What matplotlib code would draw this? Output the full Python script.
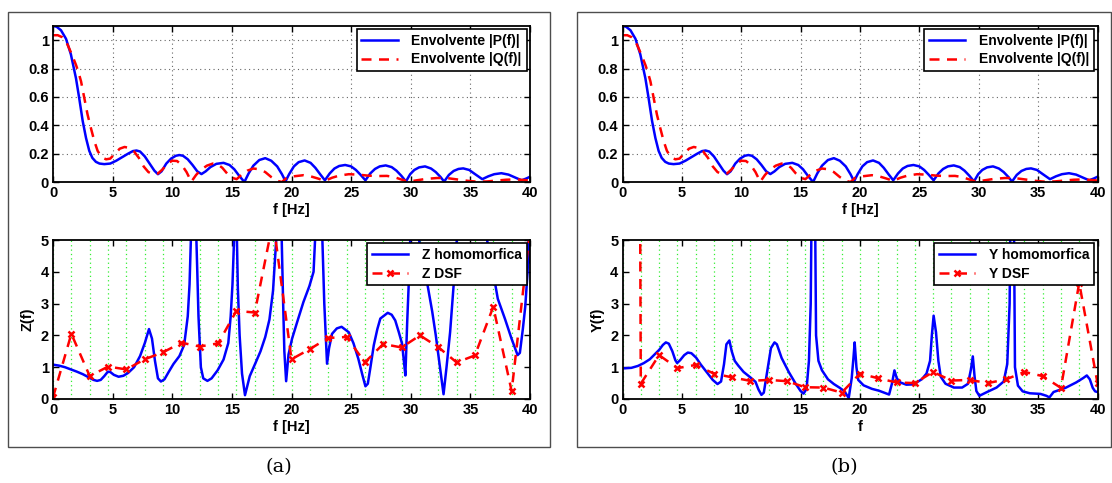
import numpy as np
import matplotlib
matplotlib.use('Agg')
import matplotlib.pyplot as plt
from matplotlib.patches import Rectangle
from matplotlib.ticker import FuncFormatter

plt.rcParams['font.family'] = 'Liberation Sans'
plt.rcParams['font.weight'] = 'bold'
plt.rcParams['font.size'] = 10.5
plt.rcParams['axes.labelweight'] = 'bold'

# --- envelopes |P(f)| and |Q(f)| (same in both panels) ---
p_f = [0, 0.3, 0.67, 1.09, 1.5, 1.93, 2.2, 2.49, 2.77, 3.04, 3.3, 3.6, 3.9, 4.3, 4.8, 5.3, 5.8,
       6.3, 6.7, 7.0, 7.3, 7.7, 8.1, 8.5, 8.8, 9.1, 9.5, 9.9, 10.3, 10.6, 10.9, 11.3, 11.7, 12.1,
       12.45, 12.8, 13.2, 13.7, 14.3, 14.8, 15.2, 15.6, 16.05, 16.4, 16.8, 17.3, 17.8, 18.3, 18.8,
       19.2, 19.5, 19.8, 20.2, 20.6, 21.1, 21.6, 22.0, 22.4, 22.8, 23.2, 23.6, 24.0, 24.5, 25.0,
       25.4, 25.8, 26.2, 26.6, 27.0, 27.4, 27.9, 28.4, 28.8, 29.2, 29.6, 29.95, 30.3, 30.7, 31.2,
       31.7, 32.1, 32.5, 32.8, 33.2, 33.6, 34.0, 34.4, 34.9, 35.4, 36.0, 36.5, 37.0, 37.6, 38.2,
       38.8, 39.3, 39.7, 40]
p_v = [1.10, 1.095, 1.07, 1.01, 0.9, 0.73, 0.59, 0.43, 0.31, 0.22, 0.17, 0.142, 0.13,
       0.126, 0.13, 0.15, 0.175, 0.2, 0.218, 0.222, 0.215, 0.18, 0.13, 0.08, 0.055, 0.075, 0.13,
       0.165, 0.185, 0.19, 0.185, 0.16, 0.12, 0.075, 0.056, 0.075, 0.105, 0.128, 0.135, 0.12,
       0.09, 0.045, 0.0, 0.06, 0.115, 0.155, 0.168, 0.15, 0.11, 0.055, 0.005, 0.055, 0.11, 0.14,
       0.152, 0.135, 0.1, 0.055, 0.012, 0.06, 0.095, 0.113, 0.12, 0.11, 0.085, 0.05, 0.012, 0.06,
       0.092, 0.11, 0.117, 0.105, 0.08, 0.045, 0.004, 0.055, 0.085, 0.103, 0.11, 0.095, 0.07,
       0.035, 0.003, 0.05, 0.078, 0.092, 0.096, 0.085, 0.055, 0.02, 0.04, 0.055, 0.062, 0.052,
       0.03, 0.012, 0.025, 0.037]

q_f = [0, 0.4, 0.8, 1.1, 1.37, 1.65, 1.93, 2.15, 2.35, 2.63, 2.9, 3.18, 3.46, 3.74, 4.0, 4.2,
       4.45, 4.8, 5.2, 5.6, 6.0, 6.4, 6.8, 7.2, 7.6, 8.0, 8.4, 8.8, 9.2, 9.6, 10.0, 10.4, 10.8,
       11.2, 11.6, 12.0, 12.4, 12.9, 13.4, 13.8, 14.2, 14.6, 15.0, 15.4, 15.8, 16.3, 16.8, 17.3,
       17.8, 18.3, 18.8, 19.2, 19.6, 20.2, 21.0, 21.6, 22.2, 22.8, 23.4, 24.0, 24.8, 25.6, 26.4,
       27.2, 28.0, 28.6, 29.2, 29.8, 30.5, 31.3, 32.2, 33.0, 33.9, 34.8, 35.6, 36.4, 37.2, 38.0,
       38.8, 39.5, 40]
q_v = [1.035, 1.035, 1.02, 0.99, 0.94, 0.885, 0.825, 0.77, 0.71, 0.59, 0.475, 0.38, 0.29, 0.22,
       0.185, 0.17, 0.16, 0.165, 0.2, 0.235, 0.247, 0.24, 0.215, 0.17, 0.11, 0.07, 0.055, 0.06,
       0.09, 0.13, 0.15, 0.148, 0.12, 0.07, 0.002, 0.05, 0.085, 0.115, 0.13, 0.125, 0.1, 0.06,
       0.03, 0.02, 0.05, 0.08, 0.095, 0.09, 0.07, 0.035, 0.008, 0.0, 0.03, 0.04, 0.048, 0.04,
       0.025, 0.008, 0.03, 0.045, 0.055, 0.052, 0.045, 0.042, 0.043, 0.035, 0.018, 0.002, 0.012,
       0.022, 0.028, 0.028, 0.018, 0.008, 0.002, 0.004, 0.01, 0.016, 0.018, 0.014, 0.01]

# --- DSF frequencies (shared by both lower plots) ---
dsf_f = [0, 1.54, 3.08, 4.62, 6.15, 7.69, 9.23, 10.77, 12.31, 13.85, 15.38, 16.92, 18.46,
         20.0, 21.54, 23.08, 24.62, 26.15, 27.69, 29.23, 30.77, 32.31, 33.85, 35.38, 36.92,
         38.46, 40.0]
z_dsf = [0.05, 2.05, 0.72, 1.02, 0.93, 1.25, 1.47, 1.77, 1.65, 1.75, 2.77, 2.72, 5.6, 1.25,
         1.57, 1.92, 1.95, 1.15, 1.73, 1.62, 2.0, 1.63, 1.15, 1.37, 2.9, 0.25, 5.3]
y_dsf = [150, 0.48, 1.38, 0.97, 1.07, 0.8, 0.68, 0.57, 0.6, 0.56, 0.37, 0.36, 0.2, 0.8, 0.65,
         0.52, 0.5, 0.85, 0.58, 0.6, 0.5, 0.62, 0.85, 0.72, 0.35, 3.65, 0.5]

# --- Z homomorfica ---
zh_f = [0, 0.5, 1.0, 1.5, 2.0, 2.5, 3.0, 3.4, 3.7, 4.0, 4.3, 4.6, 4.8, 5.1, 5.5, 5.9, 6.3, 6.8,
        7.3, 7.7, 8.05, 8.3, 8.55, 8.8, 9.05, 9.35, 9.7, 10.1, 10.6, 11.0, 11.3, 11.45, 11.6,
        11.75, 11.95, 12.1, 12.2, 12.4, 12.6, 12.95, 13.3, 13.8, 14.3, 14.7, 14.9, 15.05, 15.2,
        15.3, 15.4, 15.5, 15.65, 15.85, 16.1, 16.5, 17.0, 17.4, 17.8, 18.15, 18.45, 18.65, 18.8,
        19.0, 19.15, 19.3, 19.4, 19.55, 19.75, 20.05, 20.5, 21.0, 21.5, 21.85, 22.0, 22.2, 22.55,
        22.75, 22.98, 23.15, 23.4, 23.8, 24.2, 24.8, 25.2, 25.6, 25.95, 26.2, 26.4, 26.6, 26.9,
        27.2, 27.45, 28.07, 28.4, 28.7, 29.0, 29.27, 29.45, 29.55, 29.7, 29.85, 30.0, 30.3, 30.7,
        31.0, 31.4, 31.8, 32.1, 32.45, 32.75, 33.0, 33.3, 33.6, 33.9, 34.5, 35.5, 36.4, 36.9,
        37.3, 37.9, 38.45, 38.96, 39.15, 39.4, 39.6, 39.8, 39.9, 40]
zh_v = [1.08, 1.05, 1.0, 0.93, 0.86, 0.78, 0.68, 0.6, 0.57, 0.6, 0.72, 0.86, 0.85, 0.76, 0.7,
        0.73, 0.82, 1.0, 1.35, 1.76, 2.2, 1.9, 1.2, 0.65, 0.55, 0.62, 0.85, 1.1, 1.35, 1.7, 2.6,
        3.6, 5.5, 7, 6, 4.0, 2.6, 1.0, 0.65, 0.57, 0.65, 0.9, 1.24, 1.76, 2.6, 3.6, 5.2, 7, 5.5,
        3.5, 2.0, 0.8, 0.12, 0.72, 1.15, 1.5, 1.95, 2.5, 3.4, 4.6, 5.5, 7, 5.5, 3.0, 1.5, 0.56,
        1.4, 1.9, 2.45, 3.05, 3.55, 4.0, 5.2, 7, 5.5, 3.0, 1.11, 1.6, 2.05, 2.22, 2.27, 2.1, 1.75,
        1.27, 0.75, 0.4, 0.48, 0.95, 1.69, 2.2, 2.53, 2.71, 2.65, 2.47, 2.1, 1.74, 1.1, 0.74,
        2.4, 3.8, 5.5, 7, 5.0, 4.3, 3.6, 2.75, 2.0, 1.0, 0.15, 1.0, 2.1, 3.6, 5.2, 7, 6, 5.0,
        4.0, 3.15, 2.52, 1.9, 1.38, 1.45, 2.2, 2.9, 4.0, 5.3, 4.3]

# --- Y homomorfica ---
yh_f = [0, 0.75, 1.3, 1.8, 2.3, 2.7, 3.1, 3.4, 3.65, 3.9, 4.2, 4.45, 4.6, 4.85, 5.2, 5.5, 5.8,
        6.2, 6.6, 7.1, 7.6, 8.0, 8.3, 8.55, 8.75, 9.0, 9.2, 9.45, 9.75, 10.2, 10.7, 11.2, 11.45,
        11.7, 11.9, 12.2, 12.5, 12.8, 13.0, 13.4, 14.0, 14.6, 15.0, 15.25, 15.5, 15.7, 15.85,
        16.0, 16.15, 16.3, 16.5, 16.8, 17.3, 17.8, 18.3, 18.7, 19.05, 19.3, 19.45, 19.55, 19.7,
        19.85, 20.3, 21.0, 21.6, 22.1, 22.45, 22.7, 22.9, 23.1, 23.4, 23.9, 24.5, 25.2, 25.6,
        25.9, 26.05, 26.2, 26.4, 26.6, 26.8, 27.2, 27.9, 28.6, 29.1, 29.35, 29.5, 29.65, 29.8,
        30.05, 30.7, 31.5, 32.1, 32.4, 32.6, 32.75, 32.9, 33.05, 33.3, 33.7, 34.3, 35.2, 35.7,
        35.95, 36.3, 37.3, 38.2, 38.8, 39.1, 39.35, 39.6, 39.8, 40]
yh_v = [0.96, 0.98, 1.04, 1.13, 1.25, 1.4, 1.55, 1.7, 1.78, 1.74, 1.5, 1.22, 1.13, 1.22, 1.38,
        1.46, 1.44, 1.3, 1.08, 0.84, 0.6, 0.47, 0.55, 1.1, 1.72, 1.84, 1.5, 1.2, 1.05, 0.85, 0.7,
        0.54, 0.3, 0.13, 0.2, 0.9, 1.6, 1.78, 1.72, 1.29, 0.85, 0.47, 0.25, 0.17, 0.32, 1.2, 3.0,
        9, 9, 2.0, 1.2, 0.9, 0.62, 0.47, 0.35, 0.24, 0.03, 0.65, 1.3, 1.78, 1.0, 0.6, 0.43, 0.32,
        0.26, 0.19, 0.14, 0.5, 0.9, 0.65, 0.52, 0.45, 0.46, 0.62, 0.8, 1.2, 2.0, 2.62, 2.1, 1.2,
        0.7, 0.48, 0.36, 0.36, 0.48, 0.95, 1.34, 0.7, 0.25, 0.1, 0.22, 0.36, 0.55, 1.1, 3.0, 9,
        9, 1.0, 0.42, 0.24, 0.18, 0.16, 0.1, 0.05, 0.22, 0.35, 0.52, 0.66, 0.74, 0.62, 0.35,
        0.24, 0.22]

xticks = [0, 5, 10, 15, 20, 25, 30, 35, 40]
W, H = 1112, 483

fig = plt.figure(figsize=(W / 100, H / 100), dpi=100)


def fmt(v, pos):
    return '%g' % v


def style(ax, ylim, yticks):
    ax.set_xlim(0, 40)
    ax.set_ylim(*ylim)
    ax.set_xticks(xticks)
    ax.set_yticks(yticks)
    ax.yaxis.set_major_formatter(FuncFormatter(fmt))
    ax.tick_params(direction='in', top=True, right=True, length=4, width=1.0, pad=3)
    for s in ax.spines.values():
        s.set_linewidth(1.3)


def leg(ax, labels, lines):
    lg = ax.legend(lines, labels, loc='upper right', fancybox=False, framealpha=1,
                   edgecolor='black', borderaxespad=0.25, handlelength=2.6,
                   handletextpad=1.0, borderpad=0.35, labelspacing=0.3, fontsize=10)
    lg.get_frame().set_linewidth(1.2)


panels = [
    dict(x0=53, w=477, ylab='Z(f)', hv=zh_v, hf=zh_f, dv=z_dsf, xl='f [Hz]',
         names=['Z homomorfica', 'Z DSF'], tag='(a)', frame=(8, 550)),
    dict(x0=622.5, w=475, ylab='Y(f)', hv=yh_v, hf=yh_f, dv=y_dsf, xl='f',
         names=['Y homomorfica', 'Y DSF'], tag='(b)', frame=(577, 1111)),
]

for p in panels:
    l0, r0 = p['frame']
    fig.add_artist(Rectangle((l0 / W, 1 - 447 / H), (r0 - l0) / W, 435 / H,
                             transform=fig.transFigure, fill=False, ec='0.3', lw=1.0))
    fig.text((l0 + r0) / 2 / W, 1 - 467 / H, p['tag'], family='DejaVu Serif',
             weight='normal', fontsize=14, ha='center', va='center')

    ax1 = fig.add_axes([p['x0'] / W, 1 - 182 / H, p['w'] / W, 156 / H])
    a, = ax1.plot(p_f, p_v, color='blue', lw=1.8)
    b, = ax1.plot(q_f, q_v, color='red', lw=1.8, ls=(0, (4, 3)))
    style(ax1, (0, 1.1), [0, 0.2, 0.4, 0.6, 0.8, 1])
    ax1.grid(True, ls=(0, (1, 3)), color='0.4', lw=0.8)
    ax1.set_xlabel('f [Hz]', labelpad=2)
    leg(ax1, ['Envolvente |P(f)|', 'Envolvente |Q(f)|'], [a, b])

    ax2 = fig.add_axes([p['x0'] / W, 1 - 399 / H, p['w'] / W, 159 / H])
    for f in dsf_f:
        ax2.axvline(f, color='#33ee33', ls=(0, (1, 2.5)), lw=0.9, zorder=0)
    c, = ax2.plot(p['hf'], p['hv'], color='blue', lw=1.8)
    d, = ax2.plot(dsf_f, p['dv'], color='red', lw=1.8, ls=(0, (4, 3)),
                  marker='x', ms=5, mew=1.8)
    style(ax2, (0, 5), [0, 1, 2, 3, 4, 5])
    ax2.set_xlabel(p['xl'], labelpad=2)
    ax2.set_ylabel(p['ylab'], labelpad=4)
    leg(ax2, p['names'], [c, d])

fig.savefig('out.png', dpi=100)
